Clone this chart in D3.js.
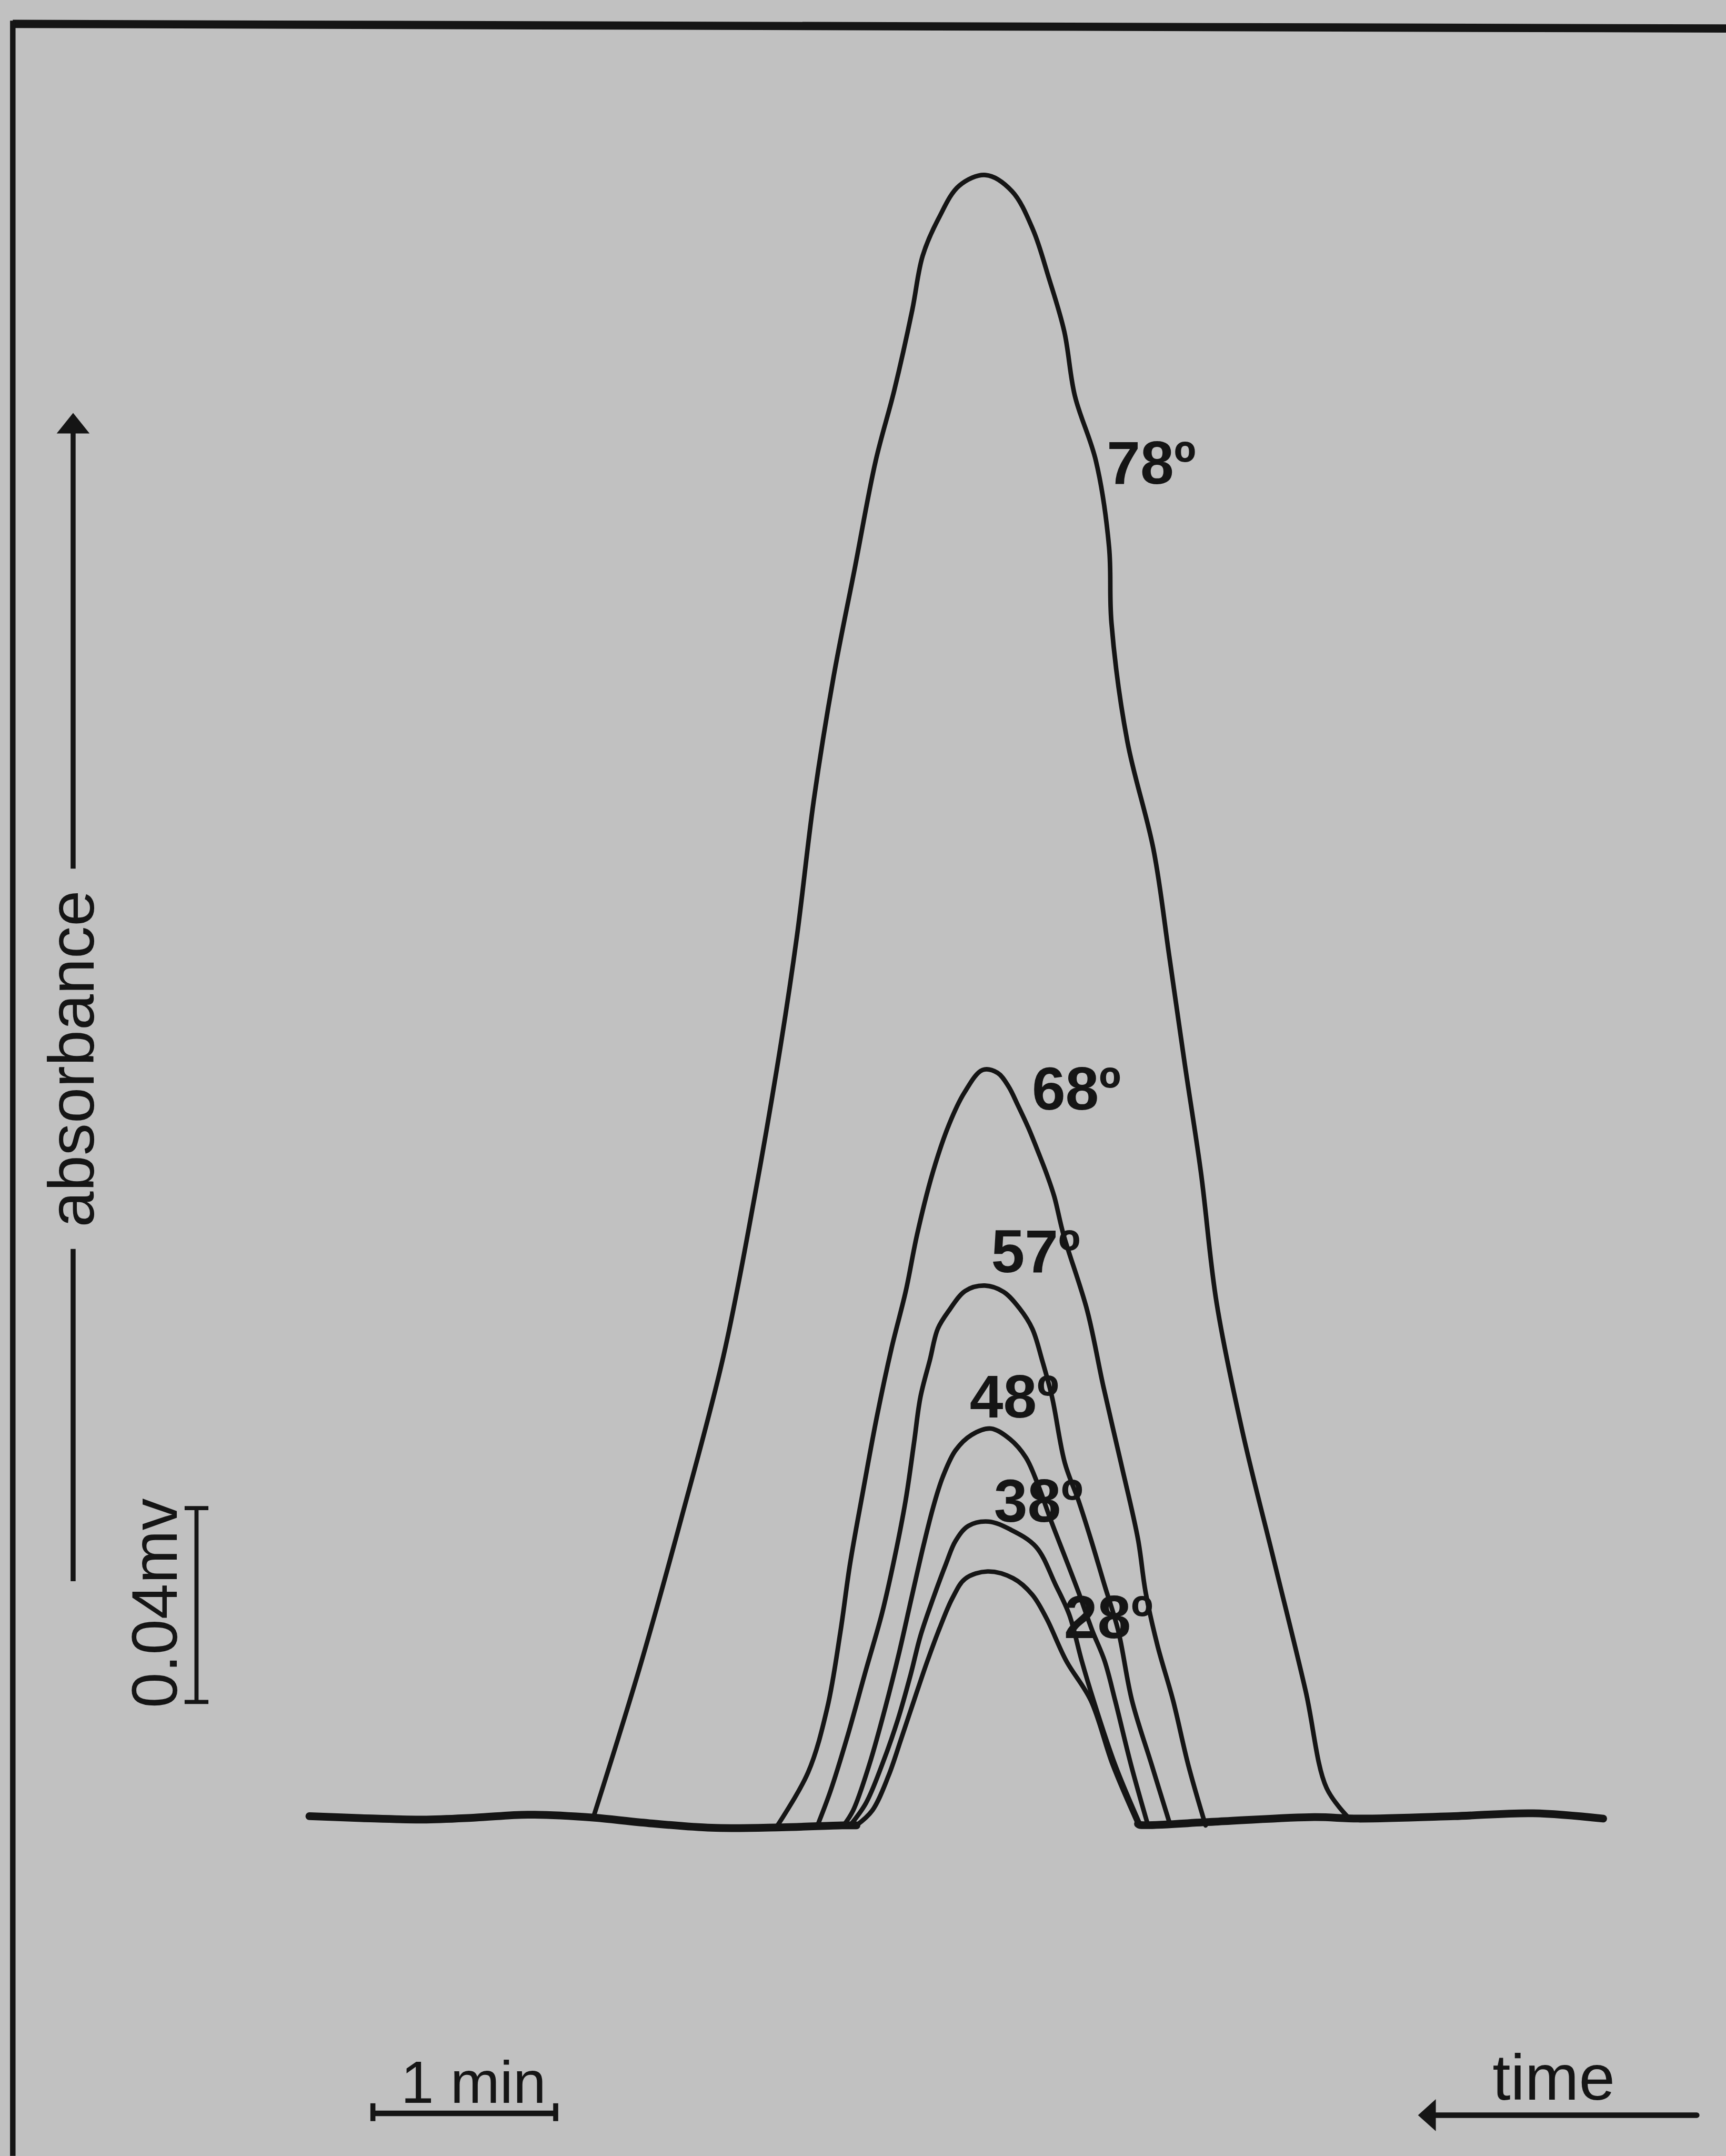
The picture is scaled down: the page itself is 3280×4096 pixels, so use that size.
<!DOCTYPE html>
<html>
<head>
<meta charset="utf-8">
<script src="https://cdn.jsdelivr.net/npm/d3@7"></script>
<style>
  html, body { margin: 0; padding: 0; background: #c1c1c1; }
  svg { display: block; }
</style>
</head>
<body>
<div id="chart-area"></div>
<script>
// recorder traces, time in min (from start of trace), absorbance in mV
const labels = ["78º", "68º", "57º", "48º", "38º", "28º"];

const t78 = [1.553, 1.805, 2.035, 2.265, 2.438, 2.58, 2.668, 2.76, 2.868, 2.983, 3.098, 3.20, 3.298, 3.355, 3.443, 3.555, 3.7, 3.843, 3.958, 4.045, 4.13, 4.188, 4.303, 4.375, 4.388, 4.475, 4.618, 4.705, 4.79, 4.878, 4.963, 5.105, 5.278, 5.45, 5.565, 5.69];
const v78 = [-0.0001, 0.0306, 0.0617, 0.0951, 0.1285, 0.1597, 0.1820, 0.2100, 0.2354, 0.2576, 0.2799, 0.2945, 0.3110, 0.3222, 0.3300, 0.3367, 0.3389, 0.3356, 0.3277, 0.3177, 0.3066, 0.2933, 0.2799, 0.2621, 0.2465, 0.2220, 0.1997, 0.1775, 0.1552, 0.1329, 0.1062, 0.0795, 0.0528, 0.0261, 0.0060, -0.0003];

const t68 = [2.558, 2.728, 2.833, 2.905, 2.958, 3.028, 3.105, 3.185, 3.263, 3.325, 3.41, 3.50, 3.583, 3.683, 3.765, 3.825, 3.875, 3.933, 3.99, 4.033, 4.075, 4.125, 4.255, 4.343, 4.44, 4.533, 4.575, 4.64, 4.725, 4.808, 4.903];
const v68 = [-0.0019, 0.0092, 0.0225, 0.0382, 0.0523, 0.0671, 0.0827, 0.0968, 0.1086, 0.1203, 0.1330, 0.1430, 0.1495, 0.1542, 0.1536, 0.1508, 0.1470, 0.1423, 0.1370, 0.1328, 0.1281, 0.1203, 0.1046, 0.0890, 0.0731, 0.0574, 0.0464, 0.0354, 0.0241, 0.0108, -0.0017];

const t57 = [2.78, 2.85, 2.94, 3.045, 3.133, 3.203, 3.263, 3.308, 3.343, 3.395, 3.438, 3.5, 3.588, 3.695, 3.798, 3.885, 3.955, 4.008, 4.063, 4.133, 4.208, 4.275, 4.35, 4.425, 4.5, 4.608, 4.71];
const v57 = [-0.0017, 0.0053, 0.0162, 0.0304, 0.0421, 0.0538, 0.0656, 0.0773, 0.0867, 0.0944, 0.1008, 0.1046, 0.1086, 0.1097, 0.1084, 0.1050, 0.1008, 0.0944, 0.0867, 0.0731, 0.0653, 0.0574, 0.0479, 0.0385, 0.0241, 0.0108, -0.0017];

const t48 = [2.923, 2.975, 3.063, 3.15, 3.228, 3.298, 3.36, 3.413, 3.465, 3.535, 3.623, 3.728, 3.833, 3.92, 3.983, 4.058, 4.133, 4.208, 4.283, 4.35, 4.408, 4.495, 4.588];
const v48 = [-0.0017, 0.0014, 0.0108, 0.0225, 0.0342, 0.0459, 0.0561, 0.0640, 0.0702, 0.0757, 0.0789, 0.0802, 0.0780, 0.0742, 0.0689, 0.0611, 0.0538, 0.0464, 0.0385, 0.0323, 0.0241, 0.0108, -0.0017];

const t38 = [2.958, 3.045, 3.133, 3.22, 3.29, 3.343, 3.413, 3.483, 3.535, 3.605, 3.715, 3.833, 3.975, 4.083, 4.158, 4.225, 4.29, 4.408, 4.543];
const v38 = [-0.0017, 0.0029, 0.0108, 0.0202, 0.0295, 0.0374, 0.0452, 0.0523, 0.0570, 0.0601, 0.0610, 0.0594, 0.0558, 0.0479, 0.0417, 0.0323, 0.0241, 0.0108, -0.0014];

const t28 = [2.993, 3.08, 3.168, 3.238, 3.308, 3.378, 3.448, 3.518, 3.588, 3.71, 3.85, 3.955, 4.033, 4.14, 4.275, 4.395, 4.533];
const v28 = [-0.0017, 0.0014, 0.0085, 0.0162, 0.0241, 0.0319, 0.0390, 0.0452, 0.0492, 0.0507, 0.0493, 0.0459, 0.0410, 0.0323, 0.0241, 0.0108, -0.0014];

// baseline outside the peaks
const tBaseL = [0, 0.285, 0.62, 0.908, 1.195, 1.553, 1.815, 2.2, 2.583, 2.915, 2.993];
const vBaseL = [0.0002, -0.0002, -0.0005, -0.0001, 0.0005, -0.0001, -0.0011, -0.0022, -0.0021, -0.0017, -0.0017];
const tBaseR = [4.533, 4.543, 4.973, 5.498, 5.738, 6.263, 6.695, 7.078];
const vBaseR = [-0.0014, -0.0016, -0.0009, 0, -0.0003, 0.0002, 0.0008, -0.0003];

// scale bars
const timeBar = 1;      // min
const absBar = 0.04;    // mV

const W = 3777, H = 4716;

const svg = d3.select("#chart-area")
  .append("svg")
    .attr("width", 3280)
    .attr("height", 4096)
    .attr("viewBox", `0 0 ${W} ${H}`);

svg.append("rect")
  .attr("width", W).attr("height", H)
  .attr("fill", "#c1c1c1");

// 1 min = 400 units, 0.04 mV = 424 units
const x = d3.scaleLinear().domain([0, 7.5]).range([677, 677 + 7.5 * 400]);
const y = d3.scaleLinear().domain([0, 0.35]).range([3975, 3975 - 0.35 * 10600]);

const ink = "#151515";

// frame of the scanned page
svg.append("line")
  .attr("x1", 28).attr("y1", 52).attr("x2", W).attr("y2", 62)
  .attr("stroke", ink).attr("stroke-width", 18);
svg.append("line")
  .attr("x1", 28).attr("y1", 45).attr("x2", 28).attr("y2", H)
  .attr("stroke", ink).attr("stroke-width", 12);

const zip = (ts, vs) => ts.map((t, i) => [t, vs[i]]);

const trace = d3.line()
  .x(d => x(d[0]))
  .y(d => y(d[1]))
  .curve(d3.curveCatmullRom.alpha(0.5));

const series = [
  zip(t78, v78), zip(t68, v68), zip(t57, v57),
  zip(t48, v48), zip(t38, v38), zip(t28, v28)
];

// baseline (several overlaid traces, so thicker)
svg.selectAll(".base")
  .data([zip(tBaseL, vBaseL), zip(tBaseR, vBaseR)])
  .join("path")
    .attr("class", "base")
    .attr("fill", "none")
    .attr("stroke", ink)
    .attr("stroke-width", 17)
    .attr("stroke-linejoin", "round")
    .attr("stroke-linecap", "round")
    .attr("d", trace);

svg.selectAll(".line")
  .data(series)
  .join("path")
    .attr("class", "line")
    .attr("fill", "none")
    .attr("stroke", ink)
    .attr("stroke-width", 10)
    .attr("stroke-linejoin", "round")
    .attr("stroke-linecap", "round")
    .attr("d", trace);

// curve labels, anchored in data units
const labelAt = [[4.3625, 0.2752], [3.9525, 0.1460], [3.73, 0.1125], [3.6125, 0.0825], [3.745, 0.0610], [4.1275, 0.0370]];

svg.selectAll(".lbl")
  .data(labels)
  .join("text")
    .attr("class", "lbl")
    .attr("x", (d, i) => x(labelAt[i][0]))
    .attr("y", (d, i) => y(labelAt[i][1]))
    .attr("font-family", "'Liberation Sans', Arial, sans-serif")
    .attr("font-weight", "bold")
    .attr("font-size", 132)
    .attr("fill", ink)
    .text(d => d);

const font = "'Liberation Sans', Arial, sans-serif";

// absorbance arrow on the left
const ax = 160;
svg.append("line")
  .attr("x1", ax).attr("x2", ax).attr("y1", 940).attr("y2", 1900)
  .attr("stroke", ink).attr("stroke-width", 11);
svg.append("line")
  .attr("x1", ax).attr("x2", ax).attr("y1", 2732).attr("y2", 3459)
  .attr("stroke", ink).attr("stroke-width", 11);
svg.append("path")
  .attr("d", `M${ax},903 L${ax - 36},948 L${ax + 36},948 Z`)
  .attr("fill", ink);
svg.append("text")
  .attr("transform", `translate(205, 2316) rotate(-90)`)
  .attr("text-anchor", "middle")
  .attr("font-family", font)
  .attr("font-size", 141)
  .attr("fill", ink)
  .text("absorbance");

// 0.04 mV bar
const barX = 430, barBottom = 3723;
const barTop = barBottom - (y(0) - y(absBar));
svg.append("line")
  .attr("x1", barX).attr("x2", barX).attr("y1", barTop).attr("y2", barBottom)
  .attr("stroke", ink).attr("stroke-width", 9);
[barTop, barBottom].forEach(yy => {
  svg.append("line")
    .attr("x1", barX - 26).attr("x2", barX + 26).attr("y1", yy).attr("y2", yy)
    .attr("stroke", ink).attr("stroke-width", 9);
});
svg.append("text")
  .attr("transform", `translate(387, ${(barTop + barBottom) / 2 - 4}) rotate(-90)`)
  .attr("text-anchor", "middle")
  .attr("font-family", font)
  .attr("font-size", 140)
  .attr("fill", ink)
  .text("0.04mv");

// 1 min bar
const minX0 = 816, minY = 4623;
const minX1 = minX0 + (x(timeBar) - x(0));
svg.append("line")
  .attr("x1", minX0).attr("x2", minX1).attr("y1", minY).attr("y2", minY)
  .attr("stroke", ink).attr("stroke-width", 12);
[minX0, minX1].forEach(xx => {
  svg.append("line")
    .attr("x1", xx).attr("x2", xx).attr("y1", minY - 22).attr("y2", minY + 17)
    .attr("stroke", ink).attr("stroke-width", 11);
});
svg.append("text")
  .attr("x", (minX0 + minX1) / 2 + 20).attr("y", 4600)
  .attr("text-anchor", "middle")
  .attr("font-family", font)
  .attr("font-size", 130)
  .attr("fill", ink)
  .text("1 min");

// time arrow (pointing left)
svg.append("line")
  .attr("x1", 3135).attr("x2", 3713).attr("y1", 4627).attr("y2", 4627)
  .attr("stroke", ink).attr("stroke-width", 12)
  .attr("stroke-linecap", "round");
svg.append("path")
  .attr("d", "M3103,4627 L3142,4592 L3142,4662 Z")
  .attr("fill", ink);
svg.append("text")
  .attr("x", 3400).attr("y", 4593)
  .attr("text-anchor", "middle")
  .attr("font-family", font)
  .attr("font-size", 142)
  .attr("fill", ink)
  .text("time");
</script>
</body>
</html>
